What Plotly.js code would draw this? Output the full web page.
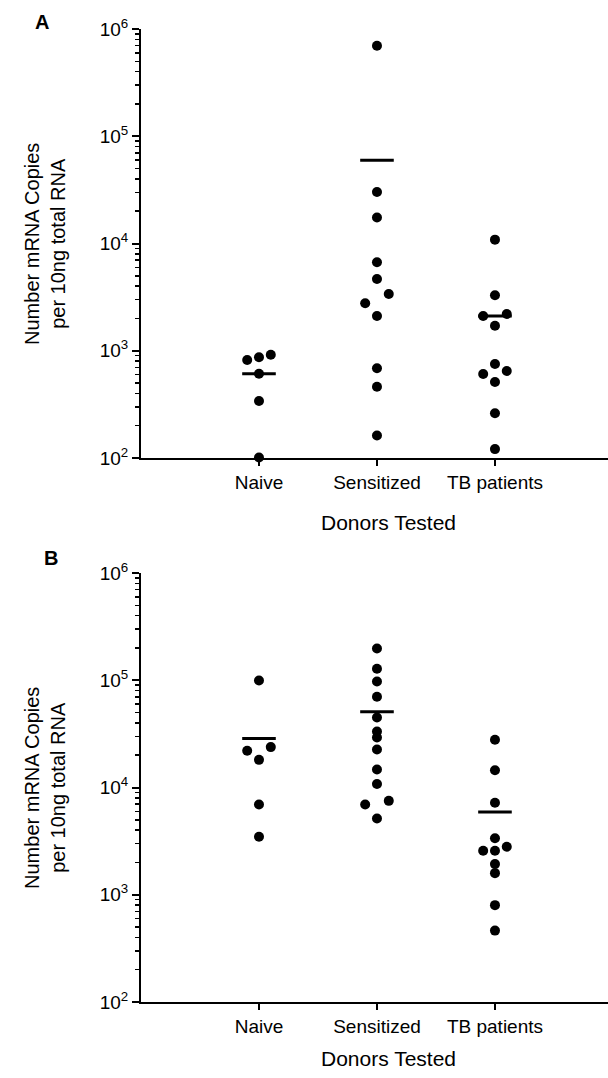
<!DOCTYPE html>
<html>
<head>
<meta charset="utf-8">
<script src="https://cdn.plot.ly/plotly-3.0.1.min.js"></script>
<style>html,body{margin:0;padding:0;background:#fff;}#chart{width:608px;height:1078px;}</style>
</head>
<body>
<div id="chart"></div>
<script>
// ---- data ----
const categories = ["Naive", "Sensitized", "TB patients"];

// Panel A values (copies per 10ng total RNA) and jitter slot (-1,0,1)
const naiveA = [820, 869, 919, 611, 340, 101];
const naiveA_slot = [-1, 0, 1, 0, 0, 0];
const sensA = [698000, 30200, 17500, 6680, 4670, 3380, 2770, 2110, 686, 462, 162];
const sensA_slot = [0, 0, 0, 0, 0, 1, -1, 0, 0, 0, 0];
const tbA = [10860, 3290, 2110, 2200, 1710, 752, 607, 647, 512, 261, 121];
const tbA_slot = [0, 0, -1, 1, 0, 0, -1, 1, 0, 0, 0];
const meansA = [611, 59700, 2110];

// Panel B
const naiveB = [99500, 22000, 23800, 18100, 6940, 3470];
const naiveB_slot = [0, -1, 1, 0, 0, 0];
const sensB = [198000, 128000, 97500, 70200, 45000, 33300, 29300, 22600, 14700, 10800, 6940, 7510, 5140];
const sensB_slot = [0, 0, 0, 0, 0, 0, 0, 0, 0, 0, -1, 1, 0];
const tbB = [27900, 14500, 7200, 3370, 2570, 2570, 2800, 1930, 1590, 800, 463];
const tbB_slot = [0, 0, 0, 0, -1, 0, 1, 0, 0, 0, 0];
const meansB = [28700, 50800, 5900];

const majorTicks = [1e2, 1e3, 1e4, 1e5, 1e6];
const majorLabels = ["10<sup>2</sup>", "10<sup>3</sup>", "10<sup>4</sup>", "10<sup>5</sup>", "10<sup>6</sup>"];

// ---- build ----
const SPREAD = 0.1;
const minorTicks = [];
for (let d = 2; d < 6; d++) for (let m = 2; m <= 9; m++) minorTicks.push(m * Math.pow(10, d));

function dots(vals, slots, cat, xa, ya) {
  return {
    type: "scatter", mode: "markers", xaxis: xa, yaxis: ya,
    x: vals.map((v, i) => cat + slots[i] * SPREAD), y: vals,
    marker: {symbol: "circle", size: 10, color: "#000"},
    cliponaxis: false, hoverinfo: "y", showlegend: false
  };
}
function meanMarks(means, xa, ya) {
  return {
    type: "scatter", mode: "markers", xaxis: xa, yaxis: ya,
    x: means.map((v, i) => i + 1), y: means,
    marker: {symbol: "line-ew", size: 24, color: "#000", line: {width: 3, color: "#000"}},
    cliponaxis: false, hoverinfo: "y", showlegend: false
  };
}

const traces = [
  dots(naiveA, naiveA_slot, 1, "x", "y"),
  dots(sensA, sensA_slot, 2, "x", "y"),
  dots(tbA, tbA_slot, 3, "x", "y"),
  meanMarks(meansA, "x", "y"),
  dots(naiveB, naiveB_slot, 1, "x2", "y2"),
  dots(sensB, sensB_slot, 2, "x2", "y2"),
  dots(tbB, tbB_slot, 3, "x2", "y2"),
  meanMarks(meansB, "x2", "y2")
];

const font = {family: "Liberation Sans, Arial, sans-serif", color: "#000"};
function xAxis(anchor) {
  return {
    anchor: anchor, domain: [0, 1], range: [0, 3.958],
    tickmode: "array", tickvals: [1, 2, 3], ticktext: categories,
    ticks: "outside", ticklen: 6, tickwidth: 2, tickcolor: "#000",
    showline: true, linewidth: 2, linecolor: "#000",
    showgrid: false, zeroline: false,
    tickfont: Object.assign({size: 19}, font)
  };
}
function yAxis(domain, anchor) {
  return {
    anchor: anchor, domain: domain, type: "log", range: [2, 6],
    tickmode: "array", tickvals: majorTicks, ticktext: majorLabels,
    ticks: "outside", ticklen: 7, tickwidth: 2, tickcolor: "#000",
    minor: {tickmode: "array", tickvals: minorTicks, ticks: "outside", ticklen: 4, tickwidth: 1.5, tickcolor: "#000", showgrid: false},
    showline: true, linewidth: 2, linecolor: "#000",
    showgrid: false, zeroline: false,
    tickfont: Object.assign({size: 19}, font)
  };
}

const ytitle = "Number mRNA Copies<br>per 10ng total RNA";
const layout = {
  width: 608, height: 1078,
  margin: {l: 141, r: 0, t: 29, b: 76},
  paper_bgcolor: "#fff", plot_bgcolor: "#fff",
  font: font,
  showlegend: false,
  xaxis: xAxis("y"),
  yaxis: yAxis([0.5591, 1], "x"),
  xaxis2: xAxis("y2"),
  yaxis2: yAxis([0, 0.4409], "x2"),
  annotations: [
    {text: "<b>A</b>", xref: "paper", yref: "paper", x: -0.212, y: 1.0072, showarrow: false, font: Object.assign({size: 20}, font), xanchor: "center", yanchor: "middle"},
    {text: "<b>B</b>", xref: "paper", yref: "paper", x: -0.1927, y: 0.4563, showarrow: false, font: Object.assign({size: 20}, font), xanchor: "center", yanchor: "middle"},
    {text: ytitle, xref: "paper", yref: "paper", x: -0.2045, y: 0.7796, textangle: -90, showarrow: false, font: Object.assign({size: 20}, font), xanchor: "center", yanchor: "middle"},
    {text: ytitle, xref: "paper", yref: "paper", x: -0.2045, y: 0.2205, textangle: -90, showarrow: false, font: Object.assign({size: 20}, font), xanchor: "center", yanchor: "middle"},
    {text: "Donors Tested", xref: "paper", yref: "paper", x: 0.53, y: 0.4933, showarrow: false, font: Object.assign({size: 21}, font), xanchor: "center", yanchor: "middle"},
    {text: "Donors Tested", xref: "paper", yref: "paper", x: 0.53, y: -0.0576, showarrow: false, font: Object.assign({size: 21}, font), xanchor: "center", yanchor: "middle"}
  ]
};

Plotly.newPlot("chart", traces, layout, {staticPlot: true, displayModeBar: false});
</script>
</body>
</html>
